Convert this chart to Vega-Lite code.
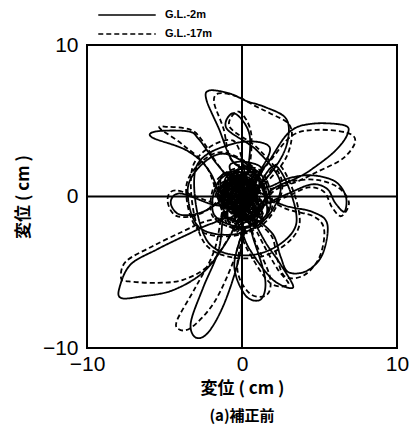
{
"$schema":"https://vega.github.io/schema/vega-lite/v6.json",
"width":310,"height":303,
"autosize":"none",
"padding":{"left":87,"top":45,"right":14,"bottom":85},
"background":"white",
"config":{"view":{"stroke":"black","strokeWidth":2},"font":"Liberation Sans"},
"title":{"text":"(a)補正前","orient":"bottom","font":"Noto Sans CJK JP","fontSize":15,"fontWeight":"bold","color":"black","offset":13},
"datasets":{
"zero":[{"z":0}],
"traj":[
{"s":"G.L.-2m","i":0,"x":0,"y":0},{"s":"G.L.-2m","i":1,"x":0.5,"y":0.8},{"s":"G.L.-2m","i":2,"x":-0.8,"y":1.2},{"s":"G.L.-2m","i":3,"x":-1.2,"y":-0.3},{"s":"G.L.-2m","i":4,"x":0.6,"y":-1.5},{"s":"G.L.-2m","i":5,"x":1.5,"y":0.2},{"s":"G.L.-2m","i":6,"x":0.3,"y":1.8},{"s":"G.L.-2m","i":7,"x":-1.5,"y":1.0},{"s":"G.L.-2m","i":8,"x":-1.8,"y":-1.2},{"s":"G.L.-2m","i":9,"x":0.2,"y":-2.0},{"s":"G.L.-2m","i":10,"x":1.8,"y":-0.8},{"s":"G.L.-2m","i":11,"x":1.2,"y":1.5},{"s":"G.L.-2m","i":12,"x":-0.5,"y":2.2},
{"s":"G.L.-2m","i":13,"x":-1.5,"y":4.5},{"s":"G.L.-2m","i":14,"x":-2.3,"y":6.4},{"s":"G.L.-2m","i":15,"x":-2.1,"y":7.0},{"s":"G.L.-2m","i":16,"x":-0.8,"y":6.8},{"s":"G.L.-2m","i":17,"x":0.3,"y":6.3},{"s":"G.L.-2m","i":18,"x":1.5,"y":5.9},{"s":"G.L.-2m","i":19,"x":2.8,"y":5.2},{"s":"G.L.-2m","i":20,"x":3.0,"y":4.0},{"s":"G.L.-2m","i":21,"x":2.5,"y":2.5},{"s":"G.L.-2m","i":22,"x":1.2,"y":0.8},
{"s":"G.L.-2m","i":23,"x":-0.5,"y":-0.5},{"s":"G.L.-2m","i":24,"x":-1.0,"y":0.8},{"s":"G.L.-2m","i":25,"x":0.5,"y":1.2},{"s":"G.L.-2m","i":26,"x":1.0,"y":-1.0},{"s":"G.L.-2m","i":27,"x":-0.8,"y":-1.5},
{"s":"G.L.-2m","i":28,"x":-2.0,"y":1.5},{"s":"G.L.-2m","i":29,"x":-3.5,"y":3.0},{"s":"G.L.-2m","i":30,"x":-5.8,"y":3.9},{"s":"G.L.-2m","i":31,"x":-5.5,"y":4.3},{"s":"G.L.-2m","i":32,"x":-3.5,"y":4.3},{"s":"G.L.-2m","i":33,"x":-2.8,"y":3.8},{"s":"G.L.-2m","i":34,"x":-1.5,"y":2.0},{"s":"G.L.-2m","i":35,"x":0,"y":0.5},
{"s":"G.L.-2m","i":36,"x":1.5,"y":2.0},{"s":"G.L.-2m","i":37,"x":3.0,"y":4.2},{"s":"G.L.-2m","i":38,"x":4.5,"y":4.8},{"s":"G.L.-2m","i":39,"x":6.6,"y":4.7},{"s":"G.L.-2m","i":40,"x":6.8,"y":4.1},{"s":"G.L.-2m","i":41,"x":6.0,"y":3.0},{"s":"G.L.-2m","i":42,"x":4.5,"y":1.8},{"s":"G.L.-2m","i":43,"x":3.5,"y":1.2},{"s":"G.L.-2m","i":44,"x":2.0,"y":0.5},
{"s":"G.L.-2m","i":45,"x":0.8,"y":-0.8},{"s":"G.L.-2m","i":46,"x":-1.2,"y":-0.4},{"s":"G.L.-2m","i":47,"x":-0.4,"y":1.4},{"s":"G.L.-2m","i":48,"x":1.4,"y":0.6},
{"s":"G.L.-2m","i":49,"x":3.0,"y":1.2},{"s":"G.L.-2m","i":50,"x":4.5,"y":1.4},{"s":"G.L.-2m","i":51,"x":6.0,"y":1.0},{"s":"G.L.-2m","i":52,"x":6.7,"y":0},{"s":"G.L.-2m","i":53,"x":6.6,"y":-1.0},{"s":"G.L.-2m","i":54,"x":6.0,"y":-0.4},{"s":"G.L.-2m","i":55,"x":5.5,"y":0.5},{"s":"G.L.-2m","i":56,"x":4.5,"y":0.8},{"s":"G.L.-2m","i":57,"x":3.0,"y":0.2},{"s":"G.L.-2m","i":58,"x":1.5,"y":-0.5},
{"s":"G.L.-2m","i":59,"x":0,"y":-1.2},{"s":"G.L.-2m","i":60,"x":-1.5,"y":0.2},{"s":"G.L.-2m","i":61,"x":-0.3,"y":1.0},
{"s":"G.L.-2m","i":62,"x":2.5,"y":-0.5},{"s":"G.L.-2m","i":63,"x":4.5,"y":-1.0},{"s":"G.L.-2m","i":64,"x":5.5,"y":-1.8},{"s":"G.L.-2m","i":65,"x":5.2,"y":-3.8},{"s":"G.L.-2m","i":66,"x":4.2,"y":-4.9},{"s":"G.L.-2m","i":67,"x":3.0,"y":-5.0},{"s":"G.L.-2m","i":68,"x":2.5,"y":-4.0},{"s":"G.L.-2m","i":69,"x":2.0,"y":-2.5},{"s":"G.L.-2m","i":70,"x":0.8,"y":-1.5},
{"s":"G.L.-2m","i":71,"x":1.5,"y":-3.0},{"s":"G.L.-2m","i":72,"x":2.5,"y":-4.5},{"s":"G.L.-2m","i":73,"x":3.3,"y":-6.0},{"s":"G.L.-2m","i":74,"x":2.0,"y":-5.5},{"s":"G.L.-2m","i":75,"x":0.5,"y":-3.5},{"s":"G.L.-2m","i":76,"x":-0.5,"y":-1.5},
{"s":"G.L.-2m","i":77,"x":-2.0,"y":-1.8},{"s":"G.L.-2m","i":78,"x":-3.5,"y":-2.5},{"s":"G.L.-2m","i":79,"x":-5.5,"y":-3.5},{"s":"G.L.-2m","i":80,"x":-7.2,"y":-4.5},{"s":"G.L.-2m","i":81,"x":-7.9,"y":-6.0},{"s":"G.L.-2m","i":82,"x":-7.8,"y":-6.7},{"s":"G.L.-2m","i":83,"x":-6.5,"y":-6.6},{"s":"G.L.-2m","i":84,"x":-4.5,"y":-6.2},{"s":"G.L.-2m","i":85,"x":-2.5,"y":-5.0},{"s":"G.L.-2m","i":86,"x":-1.0,"y":-3.0},{"s":"G.L.-2m","i":87,"x":0,"y":-1.0},
{"s":"G.L.-2m","i":88,"x":1.0,"y":0.5},{"s":"G.L.-2m","i":89,"x":-0.8,"y":1.0},{"s":"G.L.-2m","i":90,"x":-1.2,"y":-1.0},
{"s":"G.L.-2m","i":91,"x":-1.5,"y":-3.5},{"s":"G.L.-2m","i":92,"x":-2.5,"y":-6.0},{"s":"G.L.-2m","i":93,"x":-3.3,"y":-8.3},{"s":"G.L.-2m","i":94,"x":-3.0,"y":-9.3},{"s":"G.L.-2m","i":95,"x":-2.2,"y":-9.0},{"s":"G.L.-2m","i":96,"x":-1.2,"y":-7.2},{"s":"G.L.-2m","i":97,"x":-0.3,"y":-4.5},{"s":"G.L.-2m","i":98,"x":0.2,"y":-2.0},
{"s":"G.L.-2m","i":99,"x":-0.5,"y":-4.5},{"s":"G.L.-2m","i":100,"x":0.2,"y":-6.5},{"s":"G.L.-2m","i":101,"x":1.2,"y":-6.8},{"s":"G.L.-2m","i":102,"x":1.5,"y":-5.5},{"s":"G.L.-2m","i":103,"x":0.8,"y":-3.0},{"s":"G.L.-2m","i":104,"x":0,"y":-1.0},
{"s":"G.L.-2m","i":105,"x":-2.0,"y":-0.5},{"s":"G.L.-2m","i":106,"x":-4.0,"y":0.2},{"s":"G.L.-2m","i":107,"x":-4.6,"y":-0.4},{"s":"G.L.-2m","i":108,"x":-4.0,"y":-1.2},{"s":"G.L.-2m","i":109,"x":-2.5,"y":-1.0},{"s":"G.L.-2m","i":110,"x":-1.0,"y":0},
{"s":"G.L.-2m","i":111,"x":0.8,"y":1.5},{"s":"G.L.-2m","i":112,"x":-1.0,"y":2.8},{"s":"G.L.-2m","i":113,"x":-2.5,"y":2.2},{"s":"G.L.-2m","i":114,"x":-3.5,"y":0.5},{"s":"G.L.-2m","i":115,"x":-2.8,"y":-2.0},{"s":"G.L.-2m","i":116,"x":-0.5,"y":-2.5},{"s":"G.L.-2m","i":117,"x":1.5,"y":-1.5},{"s":"G.L.-2m","i":118,"x":2.5,"y":0.8},{"s":"G.L.-2m","i":119,"x":1.0,"y":3.0},{"s":"G.L.-2m","i":120,"x":-1.0,"y":4.5},{"s":"G.L.-2m","i":121,"x":-0.5,"y":5.5},{"s":"G.L.-2m","i":122,"x":0.5,"y":4.0},{"s":"G.L.-2m","i":123,"x":0.2,"y":1.0},
{"s":"G.L.-2m","i":124,"x":-0.6,"y":0.3},{"s":"G.L.-2m","i":125,"x":0.7,"y":-0.4},{"s":"G.L.-2m","i":126,"x":-0.3,"y":-0.9},{"s":"G.L.-2m","i":127,"x":0.9,"y":0.8},{"s":"G.L.-2m","i":128,"x":-1.1,"y":0.6},{"s":"G.L.-2m","i":129,"x":0.4,"y":-1.3},{"s":"G.L.-2m","i":130,"x":1.2,"y":-0.2},{"s":"G.L.-2m","i":131,"x":-0.9,"y":-0.7},{"s":"G.L.-2m","i":132,"x":0.2,"y":1.1},{"s":"G.L.-2m","i":133,"x":0.8,"y":-1.0},{"s":"G.L.-2m","i":134,"x":-0.5,"y":0.9},{"s":"G.L.-2m","i":135,"x":-1.0,"y":-0.2},{"s":"G.L.-2m","i":136,"x":0.6,"y":0.5},{"s":"G.L.-2m","i":137,"x":-0.2,"y":-1.6},{"s":"G.L.-2m","i":138,"x":1.1,"y":1.0},{"s":"G.L.-2m","i":139,"x":-1.3,"y":1.4},{"s":"G.L.-2m","i":140,"x":-0.7,"y":-1.9},{"s":"G.L.-2m","i":141,"x":1.6,"y":-1.1},{"s":"G.L.-2m","i":142,"x":0.4,"y":2.0},{"s":"G.L.-2m","i":143,"x":-1.6,"y":0.0},{"s":"G.L.-2m","i":144,"x":0.3,"y":-0.3},{"s":"G.L.-2m","i":145,"x":-0.4,"y":0.6},{"s":"G.L.-2m","i":146,"x":0.9,"y":-1.6},{"s":"G.L.-2m","i":147,"x":-0.8,"y":2.0},{"s":"G.L.-2m","i":148,"x":1.3,"y":1.7},{"s":"G.L.-2m","i":149,"x":-1.4,"y":-1.5},{"s":"G.L.-2m","i":150,"x":0.1,"y":0.2},
{"s":"G.L.-2m","i":151,"x":0.5,"y":-0.6},{"s":"G.L.-2m","i":152,"x":-0.7,"y":-1.1},{"s":"G.L.-2m","i":153,"x":0.9,"y":0.3},{"s":"G.L.-2m","i":154,"x":-0.3,"y":1.3},{"s":"G.L.-2m","i":155,"x":-1.0,"y":0.1},{"s":"G.L.-2m","i":156,"x":0.6,"y":-1.8},{"s":"G.L.-2m","i":157,"x":1.0,"y":-0.5},{"s":"G.L.-2m","i":158,"x":-0.8,"y":0.7},{"s":"G.L.-2m","i":159,"x":0.2,"y":-1.0},{"s":"G.L.-2m","i":160,"x":-0.5,"y":-2.2},{"s":"G.L.-2m","i":161,"x":0.7,"y":1.2},{"s":"G.L.-2m","i":162,"x":-1.2,"y":-0.8},{"s":"G.L.-2m","i":163,"x":0.4,"y":0.4},{"s":"G.L.-2m","i":164,"x":-0.6,"y":-0.3},{"s":"G.L.-2m","i":165,"x":1.3,"y":-1.3},{"s":"G.L.-2m","i":166,"x":-0.2,"y":1.6},{"s":"G.L.-2m","i":167,"x":-0.9,"y":-1.4},{"s":"G.L.-2m","i":168,"x":0.8,"y":0.1},{"s":"G.L.-2m","i":169,"x":-0.4,"y":-0.6},{"s":"G.L.-2m","i":170,"x":0.3,"y":-2.4},{"s":"G.L.-2m","i":171,"x":-1.1,"y":1.1},{"s":"G.L.-2m","i":172,"x":1.0,"y":1.3},{"s":"G.L.-2m","i":173,"x":-0.6,"y":-1.7},{"s":"G.L.-2m","i":174,"x":0.5,"y":0.9},{"s":"G.L.-2m","i":175,"x":-0.1,"y":-0.4},{"s":"G.L.-2m","i":176,"x":0.9,"y":-2.0},{"s":"G.L.-2m","i":177,"x":-1.4,"y":0.4},{"s":"G.L.-2m","i":178,"x":0.2,"y":1.4},{"s":"G.L.-2m","i":179,"x":-0.3,"y":-1.2},{"s":"G.L.-2m","i":180,"x":0.6,"y":-0.2},
{"s":"G.L.-2m","i":181,"x":2.2,"y":2.0},{"s":"G.L.-2m","i":182,"x":3.5,"y":-1.8},{"s":"G.L.-2m","i":183,"x":1.0,"y":-3.8},{"s":"G.L.-2m","i":184,"x":-2.2,"y":-3.0},{"s":"G.L.-2m","i":185,"x":-3.0,"y":1.8},{"s":"G.L.-2m","i":186,"x":-0.5,"y":3.5},{"s":"G.L.-2m","i":187,"x":1.8,"y":3.2},{"s":"G.L.-2m","i":188,"x":0.4,"y":0.6},{"s":"G.L.-2m","i":189,"x":-0.5,"y":-0.1},{"s":"G.L.-2m","i":190,"x":0.1,"y":-0.8},
{"s":"G.L.-2m","i":191,"x":0.6,"y":0.2},{"s":"G.L.-2m","i":192,"x":-0.4,"y":0.8},{"s":"G.L.-2m","i":193,"x":-0.7,"y":-0.5},{"s":"G.L.-2m","i":194,"x":0.3,"y":-0.9},{"s":"G.L.-2m","i":195,"x":0.8,"y":0.6},{"s":"G.L.-2m","i":196,"x":-0.2,"y":0.3},{"s":"G.L.-2m","i":197,"x":-0.9,"y":0.4},{"s":"G.L.-2m","i":198,"x":0.1,"y":-1.4},{"s":"G.L.-2m","i":199,"x":0.7,"y":-0.7},{"s":"G.L.-2m","i":200,"x":-0.5,"y":1.1},{"s":"G.L.-2m","i":201,"x":-0.6,"y":-1.0},{"s":"G.L.-2m","i":202,"x":0.5,"y":0.1},{"s":"G.L.-2m","i":203,"x":0.2,"y":0.9},{"s":"G.L.-2m","i":204,"x":-0.8,"y":-0.1},{"s":"G.L.-2m","i":205,"x":0.4,"y":-1.7},{"s":"G.L.-2m","i":206,"x":0.9,"y":-0.1},{"s":"G.L.-2m","i":207,"x":-0.3,"y":0.5},{"s":"G.L.-2m","i":208,"x":-0.4,"y":-1.3},{"s":"G.L.-2m","i":209,"x":0.6,"y":1.0},{"s":"G.L.-2m","i":210,"x":0.0,"y":-0.2},

{"s":"G.L.-17m","i":0,"x":0,"y":0},{"s":"G.L.-17m","i":1,"x":0.4,"y":0.9},{"s":"G.L.-17m","i":2,"x":-0.9,"y":1.1},{"s":"G.L.-17m","i":3,"x":-1.3,"y":-0.4},{"s":"G.L.-17m","i":4,"x":0.5,"y":-1.6},{"s":"G.L.-17m","i":5,"x":1.6,"y":0.1},{"s":"G.L.-17m","i":6,"x":0.4,"y":1.9},{"s":"G.L.-17m","i":7,"x":-1.6,"y":1.1},{"s":"G.L.-17m","i":8,"x":-1.9,"y":-1.3},{"s":"G.L.-17m","i":9,"x":0.1,"y":-2.1},{"s":"G.L.-17m","i":10,"x":1.9,"y":-0.9},{"s":"G.L.-17m","i":11,"x":1.3,"y":1.6},{"s":"G.L.-17m","i":12,"x":-0.6,"y":2.3},
{"s":"G.L.-17m","i":13,"x":-1.2,"y":4.5},{"s":"G.L.-17m","i":14,"x":-1.8,"y":6.2},{"s":"G.L.-17m","i":15,"x":-1.5,"y":6.8},{"s":"G.L.-17m","i":16,"x":-0.3,"y":6.6},{"s":"G.L.-17m","i":17,"x":0.8,"y":6.0},{"s":"G.L.-17m","i":18,"x":1.8,"y":5.5},{"s":"G.L.-17m","i":19,"x":3.0,"y":4.8},{"s":"G.L.-17m","i":20,"x":3.2,"y":3.8},{"s":"G.L.-17m","i":21,"x":2.7,"y":2.3},{"s":"G.L.-17m","i":22,"x":1.3,"y":0.7},
{"s":"G.L.-17m","i":23,"x":-0.6,"y":-0.6},{"s":"G.L.-17m","i":24,"x":-1.1,"y":0.9},{"s":"G.L.-17m","i":25,"x":0.6,"y":1.3},{"s":"G.L.-17m","i":26,"x":1.1,"y":-1.1},{"s":"G.L.-17m","i":27,"x":-0.9,"y":-1.6},
{"s":"G.L.-17m","i":28,"x":-2.2,"y":1.8},{"s":"G.L.-17m","i":29,"x":-3.8,"y":3.4},{"s":"G.L.-17m","i":30,"x":-5.3,"y":4.5},{"s":"G.L.-17m","i":31,"x":-4.8,"y":4.6},{"s":"G.L.-17m","i":32,"x":-3.3,"y":4.4},{"s":"G.L.-17m","i":33,"x":-2.5,"y":3.6},{"s":"G.L.-17m","i":34,"x":-1.4,"y":1.9},{"s":"G.L.-17m","i":35,"x":0.1,"y":0.4},
{"s":"G.L.-17m","i":36,"x":1.7,"y":2.2},{"s":"G.L.-17m","i":37,"x":3.2,"y":4.0},{"s":"G.L.-17m","i":38,"x":4.8,"y":4.4},{"s":"G.L.-17m","i":39,"x":6.8,"y":4.2},{"s":"G.L.-17m","i":40,"x":7.3,"y":3.6},{"s":"G.L.-17m","i":41,"x":6.5,"y":2.5},{"s":"G.L.-17m","i":42,"x":4.8,"y":1.6},{"s":"G.L.-17m","i":43,"x":3.6,"y":1.0},{"s":"G.L.-17m","i":44,"x":2.1,"y":0.4},
{"s":"G.L.-17m","i":45,"x":0.9,"y":-0.9},{"s":"G.L.-17m","i":46,"x":-1.3,"y":-0.5},{"s":"G.L.-17m","i":47,"x":-0.5,"y":1.5},{"s":"G.L.-17m","i":48,"x":1.5,"y":0.5},
{"s":"G.L.-17m","i":49,"x":3.2,"y":1.0},{"s":"G.L.-17m","i":50,"x":4.8,"y":1.1},{"s":"G.L.-17m","i":51,"x":6.2,"y":0.6},{"s":"G.L.-17m","i":52,"x":6.9,"y":-0.4},{"s":"G.L.-17m","i":53,"x":6.4,"y":-1.3},{"s":"G.L.-17m","i":54,"x":5.8,"y":-0.7},{"s":"G.L.-17m","i":55,"x":5.3,"y":0.3},{"s":"G.L.-17m","i":56,"x":4.3,"y":0.6},{"s":"G.L.-17m","i":57,"x":2.9,"y":0.0},{"s":"G.L.-17m","i":58,"x":1.4,"y":-0.6},
{"s":"G.L.-17m","i":59,"x":0.1,"y":-1.3},{"s":"G.L.-17m","i":60,"x":-1.6,"y":0.3},{"s":"G.L.-17m","i":61,"x":-0.4,"y":1.1},
{"s":"G.L.-17m","i":62,"x":2.6,"y":-0.7},{"s":"G.L.-17m","i":63,"x":4.6,"y":-1.3},{"s":"G.L.-17m","i":64,"x":5.3,"y":-2.2},{"s":"G.L.-17m","i":65,"x":5.0,"y":-4.0},{"s":"G.L.-17m","i":66,"x":4.0,"y":-5.2},{"s":"G.L.-17m","i":67,"x":2.8,"y":-5.3},{"s":"G.L.-17m","i":68,"x":2.3,"y":-4.2},{"s":"G.L.-17m","i":69,"x":1.9,"y":-2.6},{"s":"G.L.-17m","i":70,"x":0.7,"y":-1.6},
{"s":"G.L.-17m","i":71,"x":1.4,"y":-3.2},{"s":"G.L.-17m","i":72,"x":2.3,"y":-4.8},{"s":"G.L.-17m","i":73,"x":3.0,"y":-5.8},{"s":"G.L.-17m","i":74,"x":1.8,"y":-5.7},{"s":"G.L.-17m","i":75,"x":0.4,"y":-3.6},{"s":"G.L.-17m","i":76,"x":-0.6,"y":-1.6},
{"s":"G.L.-17m","i":77,"x":-2.2,"y":-1.6},{"s":"G.L.-17m","i":78,"x":-3.8,"y":-2.3},{"s":"G.L.-17m","i":79,"x":-5.8,"y":-3.3},{"s":"G.L.-17m","i":80,"x":-7.5,"y":-4.3},{"s":"G.L.-17m","i":81,"x":-7.8,"y":-5.4},{"s":"G.L.-17m","i":82,"x":-7.3,"y":-5.6},{"s":"G.L.-17m","i":83,"x":-5.5,"y":-5.7},{"s":"G.L.-17m","i":84,"x":-3.8,"y":-5.5},{"s":"G.L.-17m","i":85,"x":-2.2,"y":-4.6},{"s":"G.L.-17m","i":86,"x":-0.9,"y":-2.8},{"s":"G.L.-17m","i":87,"x":0.1,"y":-0.9},
{"s":"G.L.-17m","i":88,"x":1.1,"y":0.6},{"s":"G.L.-17m","i":89,"x":-0.9,"y":1.1},{"s":"G.L.-17m","i":90,"x":-1.3,"y":-1.1},
{"s":"G.L.-17m","i":91,"x":-1.8,"y":-3.6},{"s":"G.L.-17m","i":92,"x":-3.0,"y":-6.0},{"s":"G.L.-17m","i":93,"x":-4.2,"y":-8.2},{"s":"G.L.-17m","i":94,"x":-4.0,"y":-8.8},{"s":"G.L.-17m","i":95,"x":-3.2,"y":-8.6},{"s":"G.L.-17m","i":96,"x":-1.8,"y":-7.0},{"s":"G.L.-17m","i":97,"x":-0.6,"y":-4.4},{"s":"G.L.-17m","i":98,"x":0.1,"y":-2.1},
{"s":"G.L.-17m","i":99,"x":-0.3,"y":-4.8},{"s":"G.L.-17m","i":100,"x":0.5,"y":-6.4},{"s":"G.L.-17m","i":101,"x":1.6,"y":-6.5},{"s":"G.L.-17m","i":102,"x":1.8,"y":-5.3},{"s":"G.L.-17m","i":103,"x":0.9,"y":-3.1},{"s":"G.L.-17m","i":104,"x":0.1,"y":-1.1},
{"s":"G.L.-17m","i":105,"x":-2.2,"y":-0.3},{"s":"G.L.-17m","i":106,"x":-4.3,"y":0.4},{"s":"G.L.-17m","i":107,"x":-4.8,"y":-0.3},{"s":"G.L.-17m","i":108,"x":-4.2,"y":-1.3},{"s":"G.L.-17m","i":109,"x":-2.6,"y":-1.1},{"s":"G.L.-17m","i":110,"x":-1.1,"y":0.1},
{"s":"G.L.-17m","i":111,"x":0.9,"y":1.6},{"s":"G.L.-17m","i":112,"x":-1.1,"y":2.9},{"s":"G.L.-17m","i":113,"x":-2.6,"y":2.3},{"s":"G.L.-17m","i":114,"x":-3.6,"y":0.6},{"s":"G.L.-17m","i":115,"x":-2.9,"y":-2.1},{"s":"G.L.-17m","i":116,"x":-0.6,"y":-2.6},{"s":"G.L.-17m","i":117,"x":1.6,"y":-1.6},{"s":"G.L.-17m","i":118,"x":2.6,"y":0.9},{"s":"G.L.-17m","i":119,"x":1.1,"y":3.1},{"s":"G.L.-17m","i":120,"x":-0.8,"y":4.6},{"s":"G.L.-17m","i":121,"x":-0.2,"y":5.6},{"s":"G.L.-17m","i":122,"x":0.6,"y":4.1},{"s":"G.L.-17m","i":123,"x":0.3,"y":1.1},
{"s":"G.L.-17m","i":124,"x":-0.7,"y":0.2},{"s":"G.L.-17m","i":125,"x":0.8,"y":-0.5},{"s":"G.L.-17m","i":126,"x":-0.2,"y":-1.0},{"s":"G.L.-17m","i":127,"x":1.0,"y":0.7},{"s":"G.L.-17m","i":128,"x":-1.2,"y":0.5},{"s":"G.L.-17m","i":129,"x":0.5,"y":-1.4},{"s":"G.L.-17m","i":130,"x":1.3,"y":-0.3},{"s":"G.L.-17m","i":131,"x":-1.0,"y":-0.8},{"s":"G.L.-17m","i":132,"x":0.3,"y":1.2},{"s":"G.L.-17m","i":133,"x":0.9,"y":-1.1},{"s":"G.L.-17m","i":134,"x":-0.6,"y":1.0},{"s":"G.L.-17m","i":135,"x":-1.1,"y":-0.3},{"s":"G.L.-17m","i":136,"x":0.7,"y":0.4},{"s":"G.L.-17m","i":137,"x":-0.3,"y":-1.7},{"s":"G.L.-17m","i":138,"x":1.2,"y":1.1},{"s":"G.L.-17m","i":139,"x":-1.4,"y":1.3},{"s":"G.L.-17m","i":140,"x":-0.8,"y":-2.0},{"s":"G.L.-17m","i":141,"x":1.7,"y":-1.2},{"s":"G.L.-17m","i":142,"x":0.5,"y":2.1},{"s":"G.L.-17m","i":143,"x":-1.7,"y":0.1},{"s":"G.L.-17m","i":144,"x":0.2,"y":-0.2},
{"s":"G.L.-17m","i":145,"x":0.6,"y":-0.7},{"s":"G.L.-17m","i":146,"x":-0.8,"y":-1.0},{"s":"G.L.-17m","i":147,"x":1.0,"y":0.2},{"s":"G.L.-17m","i":148,"x":-0.2,"y":1.4},{"s":"G.L.-17m","i":149,"x":-1.1,"y":0.0},{"s":"G.L.-17m","i":150,"x":0.7,"y":-1.9},{"s":"G.L.-17m","i":151,"x":1.1,"y":-0.4},{"s":"G.L.-17m","i":152,"x":-0.9,"y":0.8},{"s":"G.L.-17m","i":153,"x":0.3,"y":-1.1},{"s":"G.L.-17m","i":154,"x":-0.4,"y":-2.3},{"s":"G.L.-17m","i":155,"x":0.8,"y":1.1},{"s":"G.L.-17m","i":156,"x":-1.3,"y":-0.7},{"s":"G.L.-17m","i":157,"x":0.5,"y":0.3},{"s":"G.L.-17m","i":158,"x":-0.7,"y":-0.2},{"s":"G.L.-17m","i":159,"x":1.4,"y":-1.4},{"s":"G.L.-17m","i":160,"x":-0.3,"y":1.7},{"s":"G.L.-17m","i":161,"x":-1.0,"y":-1.5},{"s":"G.L.-17m","i":162,"x":0.9,"y":0.0},{"s":"G.L.-17m","i":163,"x":2.4,"y":2.1},{"s":"G.L.-17m","i":164,"x":3.7,"y":-1.9},{"s":"G.L.-17m","i":165,"x":1.1,"y":-4.0},{"s":"G.L.-17m","i":166,"x":-2.4,"y":-3.1},{"s":"G.L.-17m","i":167,"x":-3.2,"y":1.9},{"s":"G.L.-17m","i":168,"x":-0.6,"y":3.7},{"s":"G.L.-17m","i":169,"x":0.3,"y":0.5},{"s":"G.L.-17m","i":170,"x":-0.2,"y":-0.3}
]},
"layer":[
{"data":{"name":"traj"},
 "mark":{"type":"line","interpolate":"cardinal","strokeWidth":1.8,"color":"black"},
 "encoding":{
  "x":{"field":"x","type":"quantitative","scale":{"domain":[-10,10],"nice":false,"zero":false},
   "axis":{"values":[-10,0,10],"grid":false,"ticks":false,"domain":false,"labelFontSize":21,"labelColor":"black","labelPadding":5,"labelFlush":false,"title":"変位 ( cm )","titleFont":"Noto Sans CJK JP","titleFontSize":17,"titleFontWeight":"bold","titleColor":"black","titlePadding":6}},
  "y":{"field":"y","type":"quantitative","scale":{"domain":[-10,10],"nice":false,"zero":false},
   "axis":{"values":[-10,0,10],"grid":false,"ticks":false,"domain":false,"labelFontSize":21,"labelColor":"black","labelPadding":9,"labelFlush":false,"title":"変位 ( cm )","titleFont":"Noto Sans CJK JP","titleFontSize":17,"titleFontWeight":"bold","titleColor":"black","titlePadding":10}},
  "detail":{"field":"s"},
  "order":{"field":"i","type":"quantitative"},
  "strokeDash":{"field":"s","type":"nominal","scale":{"domain":["G.L.-2m","G.L.-17m"],"range":[[1,0],[5,3]]},
   "legend":{"title":null,"orient":"none","legendX":10,"legendY":-37,"symbolType":"stroke","symbolSize":3300,"symbolStrokeColor":"black","symbolStrokeWidth":1.6,"labelFontSize":11,"labelFontWeight":"bold","labelColor":"black","clipHeight":14,"rowPadding":5,"padding":0,"labelOffset":8}}
 }},
{"data":{"name":"zero"},"mark":{"type":"rule","color":"black","strokeWidth":2},"encoding":{"x":{"field":"z","type":"quantitative"}}},
{"data":{"name":"zero"},"mark":{"type":"rule","color":"black","strokeWidth":2},"encoding":{"y":{"field":"z","type":"quantitative"}}}
]
}
